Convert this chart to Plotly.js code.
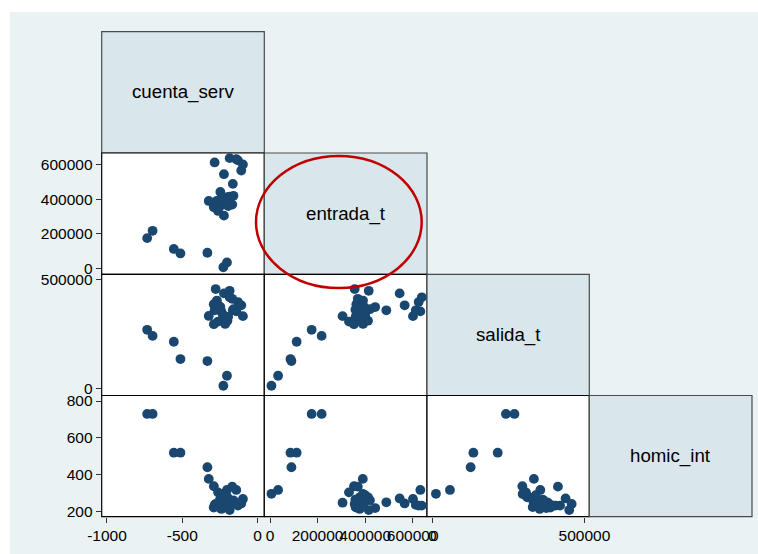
<!DOCTYPE html>
<html><head><meta charset="utf-8">
<script src="https://cdn.plot.ly/plotly-3.0.1.min.js"></script>
<style>html,body{margin:0;padding:0;background:#fff}#chart{width:758px;height:554px}</style>
</head><body><div id="chart"></div>
<script>
const varNames = ['cuenta_serv', 'entrada_t', 'salida_t', 'homic_int'];
const cuenta_serv = [-733,-697,-556,-512,-333,-203,-227,-324,-223,-262,-290,-278,-250,-291,-240,-205,-270,-215,-252,-200,-185,-247,-164,-223,-108,-97,-285,-130,-185,-141,-168,-160,-230,-195];
const entrada_t = [175000,217000,112000,86000,90000,34000,6000,390000,305000,332000,353000,356000,359000,363000,377000,377000,391000,391000,394000,412000,415000,442000,489000,545000,566000,601000,613000,625000,638000,632000,369000,420000,400000,360000];
const salida_t = [270000,242000,215000,135000,126000,58000,12000,334000,333000,308000,296000,458000,363000,388000,353000,318000,405000,297000,378000,312000,450000,375000,360000,438000,383000,333000,360000,398000,420000,355000,413000,365000,340000,330000];
const homic_int = [730,730,520,520,441,318,297,378,249,305,338,242,265,223,215,278,233,296,250,278,209,220,251,272,245,269,237,233,233,318,336,262,290,225];

const tickVals = {
  cuenta_serv: [-1000, -500, 0],
  entrada_t: [0, 200000, 400000, 600000],
  salida_t: [0, 500000],
  homic_int: [200, 400, 600, 800]
};
const tickText = {
  cuenta_serv: ['-1000', '-500', '0'],
  entrada_t: ['0', '200000', '400000', '600000'],
  salida_t: ['0', '500000'],
  homic_int: ['200', '400', '600', '800']
};

const series = [cuenta_serv, entrada_t, salida_t, homic_int];

// layout geometry (pixels)
const W = 758, H = 554;
const colEdges = [101.7, 264.3, 427, 589.3, 752];
const rowEdges = [31.7, 153, 274.3, 395.5, 516.7];
const xRanges = [[-1035, 45], [-24000, 660000], [-17400, 516000], [150, 850]];
const yRanges = [[-1035, 45], [-34700, 667700], [-33000, 526000], [173, 830]];
const px = v => v / W;
const py = v => 1 - v / H;

const FONT = 'Liberation Sans, Arial, Helvetica, sans-serif';
const traces = [];
const layout = {
  width: W, height: H,
  margin: {l: 0, r: 0, t: 0, b: 0},
  paper_bgcolor: '#ffffff',
  plot_bgcolor: 'rgba(0,0,0,0)',
  showlegend: false,
  font: {family: FONT, size: 15.5, color: '#000'},
  shapes: [],
  annotations: []
};

layout.shapes.push({type: 'rect', xref: 'paper', yref: 'paper', x0: px(10), x1: px(758), y0: py(554), y1: py(12),
  fillcolor: '#EAF2F3', line: {width: 0}, layer: 'below'});

let k = 0;
for (let i = 0; i < 4; i++) {
  for (let j = 0; j <= i; j++) {
    const x0 = colEdges[j], x1 = colEdges[j + 1], y0 = rowEdges[i], y1 = rowEdges[i + 1];
    if (i === j) {
      layout.shapes.push({type: 'rect', xref: 'paper', yref: 'paper', x0: px(x0), x1: px(x1), y0: py(y1), y1: py(y0),
        fillcolor: '#D9E6EB', line: {color: '#4a4a4a', width: 1.2}, layer: 'below'});
      layout.annotations.push({xref: 'paper', yref: 'paper', x: px((x0 + x1) / 2), y: py((y0 + y1) / 2),
        xanchor: 'center', yanchor: 'middle',
        text: varNames[i], showarrow: false, font: {size: 18.7, color: '#000', family: FONT}});
      continue;
    }
    layout.shapes.push({type: 'rect', xref: 'paper', yref: 'paper', x0: px(x0), x1: px(x1), y0: py(y1), y1: py(y0),
      fillcolor: '#ffffff', line: {color: '#000000', width: 1.2}, layer: 'below'});
    k++;
    const sx = k === 1 ? '' : String(k);
    const xn = varNames[j], yn = varNames[i];
    const showX = (i === 3), showY = (j === 0);
    layout['xaxis' + sx] = {
      domain: [px(x0), px(x1)], range: xRanges[j], anchor: 'y' + sx,
      showgrid: false, zeroline: false, showline: false,
      tickmode: 'array', tickvals: showX ? tickVals[xn] : [], ticktext: showX ? tickText[xn] : [],
      ticks: showX ? 'outside' : '', ticklen: 5, tickcolor: '#333', tickwidth: 1, tickangle: 0,
      showticklabels: showX, tickfont: {size: 15.5, color: '#000', family: FONT}, fixedrange: true
    };
    layout['yaxis' + sx] = {
      domain: [py(y1), py(y0)], range: yRanges[i], anchor: 'x' + sx,
      showgrid: false, zeroline: false, showline: false,
      tickmode: 'array', tickvals: showY ? tickVals[yn] : [], ticktext: showY ? tickText[yn] : [],
      ticks: showY ? 'outside' : '', ticklen: 5, tickcolor: '#333', tickwidth: 1, tickangle: 0,
      showticklabels: showY, tickfont: {size: 15.5, color: '#000', family: FONT}, fixedrange: true
    };
    traces.push({
      type: 'scatter', mode: 'markers', x: series[j], y: series[i],
      xaxis: 'x' + sx, yaxis: 'y' + sx, cliponaxis: false,
      marker: {color: '#1A476F', size: 9.8, line: {width: 0}},
      hoverinfo: 'skip'
    });
  }
}

layout.shapes.push({type: 'circle', xref: 'paper', yref: 'paper',
  x0: px(256), x1: px(421.7), y0: py(288), y1: py(156),
  line: {color: '#C00000', width: 2.5}, fillcolor: 'rgba(0,0,0,0)', layer: 'above'});

Plotly.newPlot('chart', traces, layout, {displayModeBar: false, staticPlot: true});
</script>
</body></html>
